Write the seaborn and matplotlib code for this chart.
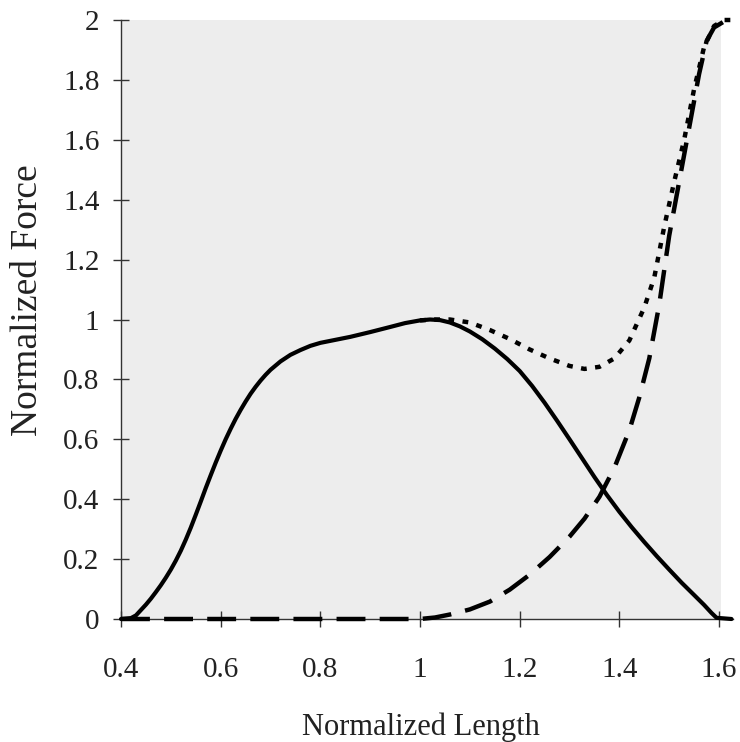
import matplotlib
matplotlib.use("Agg")
import matplotlib.pyplot as plt
import seaborn as sns
import pandas as pd

# ---- data ----
active_x = [0.40, 0.42, 0.43, 0.44, 0.45, 0.46, 0.47, 0.48, 0.49, 0.50, 0.51, 0.52,
            0.53, 0.54, 0.55, 0.56, 0.57, 0.58, 0.59, 0.60, 0.61, 0.62, 0.63, 0.64,
            0.65, 0.66, 0.67, 0.68, 0.69, 0.70, 0.72, 0.74, 0.76, 0.78, 0.80, 0.83,
            0.86, 0.90, 0.94, 0.97, 1.00, 1.02, 1.04, 1.06, 1.08, 1.10, 1.125, 1.15,
            1.175, 1.20, 1.225, 1.25, 1.275, 1.30, 1.325, 1.35, 1.375, 1.40, 1.425,
            1.45, 1.475, 1.50, 1.525, 1.55, 1.57, 1.585, 1.595, 1.625]
active_y = [0.0, 0.003, 0.012, 0.03, 0.048, 0.068, 0.09, 0.113, 0.138, 0.165, 0.195, 0.228,
            0.265, 0.305, 0.348, 0.392, 0.437, 0.48, 0.522, 0.562, 0.60, 0.635, 0.668, 0.698,
            0.726, 0.752, 0.775, 0.796, 0.815, 0.832, 0.86, 0.882, 0.898, 0.912, 0.922, 0.932,
            0.942, 0.958, 0.975, 0.988, 0.997, 1.0, 0.998, 0.99, 0.977, 0.96, 0.934, 0.903,
            0.868, 0.828, 0.778, 0.722, 0.662, 0.6, 0.537, 0.474, 0.414, 0.358, 0.306,
            0.257, 0.21, 0.165, 0.121, 0.08, 0.047, 0.02, 0.004, 0.0]

passive_x = [0.40, 1.00, 1.03, 1.06, 1.10, 1.14, 1.18, 1.22, 1.26, 1.30, 1.33, 1.36,
             1.39, 1.42, 1.44, 1.46, 1.48, 1.50, 1.52, 1.54, 1.56, 1.575, 1.59, 1.61, 1.625]
passive_y = [0.0, 0.0, 0.005, 0.015, 0.032, 0.058, 0.098, 0.148, 0.207, 0.275, 0.335, 0.408,
             0.505, 0.63, 0.74, 0.87, 1.05, 1.28, 1.46, 1.64, 1.82, 1.93, 1.975, 1.995, 2.0]

total_x = [1.00, 1.03, 1.06, 1.10, 1.14, 1.18, 1.22, 1.26, 1.30, 1.33, 1.36, 1.39,
           1.42, 1.45, 1.47, 1.49, 1.51, 1.53, 1.55, 1.57, 1.59, 1.61, 1.625]
total_y = [0.997, 1.0, 1.0, 0.99, 0.965, 0.935, 0.90, 0.87, 0.845, 0.835, 0.842, 0.87,
           0.93, 1.04, 1.14, 1.31, 1.46, 1.60, 1.77, 1.91, 1.98, 2.0, 2.0]

x_ticks = [0.4, 0.6, 0.8, 1.0, 1.2, 1.4, 1.6]
x_tick_labels = ["0.4", "0.6", "0.8", "1", "1.2", "1.4", "1.6"]
y_ticks = [0, 0.2, 0.4, 0.6, 0.8, 1.0, 1.2, 1.4, 1.6, 1.8, 2.0]
y_tick_labels = ["0", "0.2", "0.4", "0.6", "0.8", "1", "1.2", "1.4", "1.6", "1.8", "2"]

x_label = "Normalized Length"
y_label = "Normalized Force"

# ---- plot ----
sns.set_theme(style="white")
plt.rcParams["font.family"] = ["Liberation Serif", "DejaVu Serif"]

fig = plt.figure(figsize=(7.40, 7.42), dpi=100)
ax = fig.add_axes([121 / 740, 1 - 619 / 742, 612 / 740, 599 / 742])
ax.set_facecolor("#ededed")
ax.axvspan(1.603, 1.64, color="white", zorder=0, lw=0)

df_p = pd.DataFrame({"x": passive_x, "y": passive_y})
df_t = pd.DataFrame({"x": total_x, "y": total_y})
df_a = pd.DataFrame({"x": active_x, "y": active_y})

sns.lineplot(data=df_p, x="x", y="y", ax=ax, color="black", lw=3.2, sort=False,
             estimator=None, linestyle=(0, (6.5, 3.2)), clip_on=False, zorder=3)
sns.lineplot(data=df_t, x="x", y="y", ax=ax, color="black", lw=3.2, sort=False,
             estimator=None, linestyle=(0, (1.3, 1.9)), clip_on=False, zorder=3)
sns.lineplot(data=df_a, x="x", y="y", ax=ax, color="black", lw=3.0, sort=False,
             estimator=None, linestyle="-", clip_on=False, zorder=4)

ax.set_xlim(0.4, 1.628)
ax.set_ylim(0, 2.0)
ax.set_xticks(x_ticks)
ax.set_xticklabels(x_tick_labels)
ax.set_yticks(y_ticks)
ax.set_yticklabels(y_tick_labels)

for s in ["top", "right"]:
    ax.spines[s].set_visible(False)
for s in ["left", "bottom"]:
    ax.spines[s].set_color("#333333")
    ax.spines[s].set_linewidth(1.0)

ax.tick_params(axis="both", which="major", direction="inout", length=11,
               width=1.0, color="#333333", labelcolor="#222222", labelsize=21)
ax.tick_params(axis="x", pad=22, bottom=True)
ax.tick_params(axis="y", pad=10, left=True)

ax.set_xlabel(x_label, fontsize=22, color="#222222")
ax.set_ylabel(y_label, fontsize=27, color="#222222")
ax.xaxis.label.set_verticalalignment("center")
ax.yaxis.label.set_verticalalignment("center")
ax.xaxis.set_label_coords(0.49, -0.18)
ax.yaxis.set_label_coords(-0.152, 0.533)
ax.grid(False)

fig.savefig("out.png", dpi=100, facecolor="white")
